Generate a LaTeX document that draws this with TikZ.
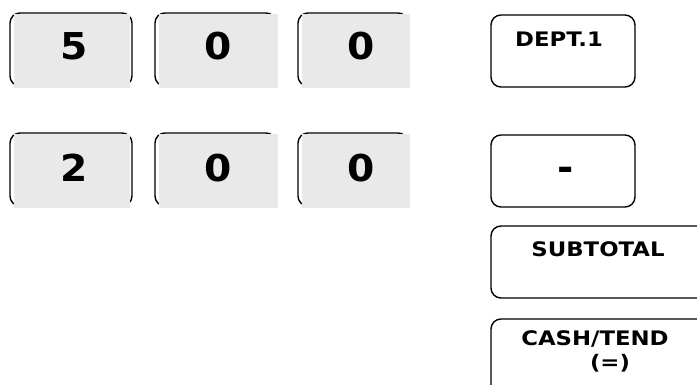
\documentclass[tikz,border=0pt]{standalone}
\usepackage{fontspec}
\setmainfont{DejaVu Sans}
\newfontfamily\widefont{DejaVu Sans}[FakeStretch=1.14]
\newfontfamily\digitfont{DejaVu Sans}[FakeStretch=1.06]
\definecolor{keygray}{HTML}{E9E9E9}
\begin{document}
\begin{tikzpicture}[x=1pt,y=-1pt,
  keyline/.style={draw=black,line width=1.4pt,rounded corners=10pt},
  keyfill/.style={fill=keygray,draw=none},
  digit/.style={font=\digitfont\bfseries\fontsize{37}{37}\selectfont,inner sep=0pt,anchor=base},
  label/.style={font=\widefont\bfseries\fontsize{20}{20}\selectfont,inner sep=0pt,anchor=base}]
\useasboundingbox (0,0) rectangle (697,385);
\clip (0,0) rectangle (697,385);
% number keys: outline first, grey face laid over it
\foreach \xa/\xb/\xc/\ya/\yb in {10/132/130/13/86, 155/276/278/13/86, 298/408/410/13/86,
                                 10/132/130/133/206, 155/276/278/133/206, 298/408/410/133/206}{
  \draw[keyline] (\xa,\ya) rectangle (\xb,\yb);
  \fill[keyfill] (\xa+4,\ya+1.2) rectangle (\xc,\yb+2);
}
\node[digit] (k5)  at (74,60)  {5};
\node[digit] (k0a) at (218,60) {0};
\node[digit] (k0b) at (361,60) {0};
\node[digit] (k2)  at (74,182) {2};
\node[digit] (k0c) at (218,182) {0};
\node[digit] (k0d) at (361,182) {0};
% function keys
\draw[keyline] (491,15) rectangle (635,87);
\draw[keyline] (491,135) rectangle (635,207);
\draw[keyline] (491,226) rectangle (720,298);
\draw[keyline] (491,319) rectangle (720,420);
\node[label] (dept)  at (559,47)  {DEPT.1};
\node[digit] (minus) at (566,181) {-};
\node[label] (sub)   at (598,257) {SUBTOTAL};
\node[label] (cash)  at (595,345) {CASH/TEND};
\node[label] (eq)    at (610,369) {(=)};
\end{tikzpicture}
\end{document}
